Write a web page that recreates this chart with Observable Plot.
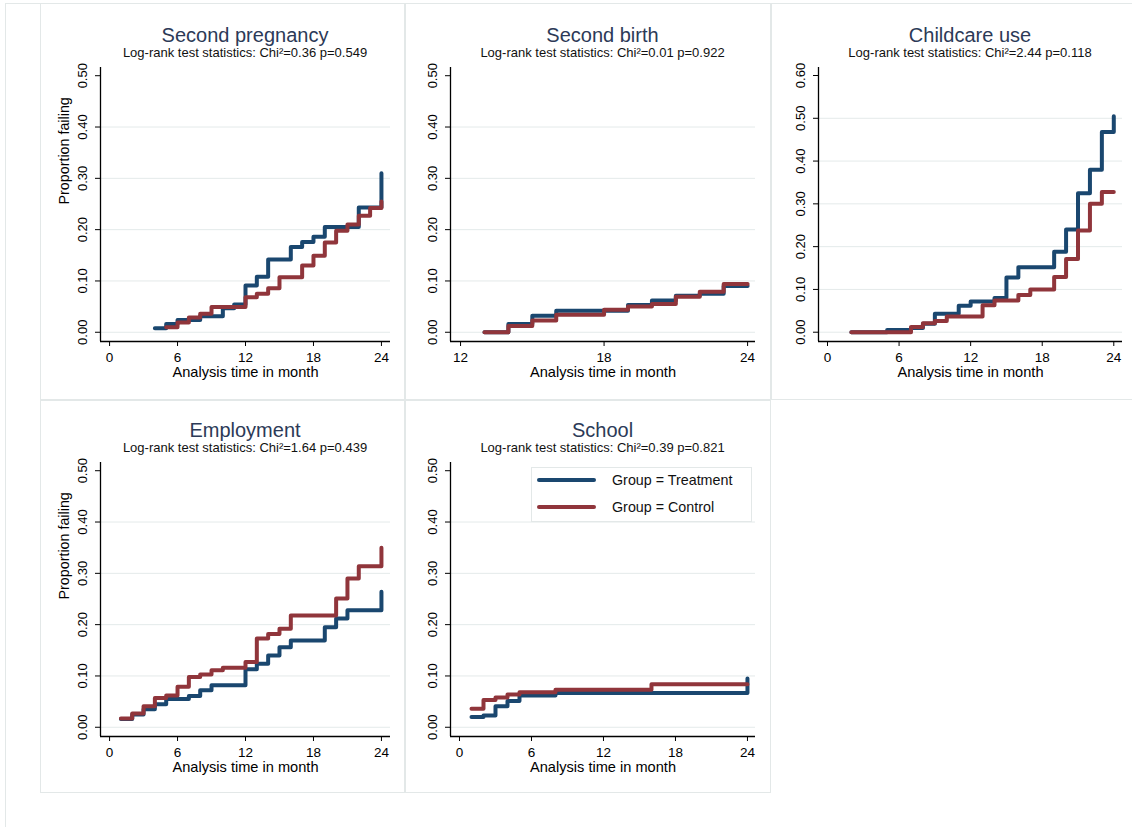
<!DOCTYPE html>
<html>
<head>
<meta charset="utf-8">
<script src="https://cdn.jsdelivr.net/npm/d3@7"></script>
<script src="https://cdn.jsdelivr.net/npm/@observablehq/plot@0.6"></script>
<style>
  body { margin: 0; background: #fff; font-family: "Liberation Sans", Arial, sans-serif; }
  #root { position: relative; width: 1132px; height: 827px; overflow: hidden; background: #fff; }
  .box { position: absolute; border: 1px solid #e3e8e8; box-sizing: border-box; }
  .ttl { position: absolute; white-space: nowrap; transform: translateX(-50%); font-size: 20px; line-height: 20px; color: #2c3a57; }
  .sub { position: absolute; white-space: nowrap; transform: translateX(-50%); font-size: 13px; line-height: 13px; color: #111; }
  .plotwrap { position: absolute; }
  .legend { position: absolute; border: 1px solid #e3e8e8; background: #fff; box-sizing: border-box; }
  .legrow { position: absolute; font-size: 14.3px; line-height: 14px; color: #111; white-space: nowrap; }
  .swatch { position: absolute; height: 4px; border-radius: 2px; }
</style>
</head>
<body>
<div id="root"></div>
<script>
// ---------- data ----------
const groups = ["Group = Treatment", "Group = Control"];
const groupColors = ["#1a476f", "#90353b"];

const panelTitles = ["Second pregnancy", "Second birth", "Childcare use", "Employment", "School"];
const chi2Values = ["0.36", "0.01", "2.44", "1.64", "0.39"];
const pValues = ["0.549", "0.922", "0.118", "0.439", "0.821"];

const xTicksFull = [0, 6, 12, 18, 24];
const xTicksBirth = [12, 18, 24];
const yTicksHalf = [0, 0.1, 0.2, 0.3, 0.4, 0.5];
const yTicksSix = [0, 0.1, 0.2, 0.3, 0.4, 0.5, 0.6];

const xAxisTitle = "Analysis time in month";
const yAxisTitle = "Proportion failing";

// [month, proportion failing]
const pregnancyTreatment = [[4,0.008],[5,0.016],[6,0.024],[8,0.031],[10,0.047],[11,0.054],[12,0.091],[13,0.108],[14,0.142],[16,0.166],[17,0.176],[18,0.186],[19,0.205],[22,0.243],[24,0.310]];
const pregnancyControl = [[5,0.010],[6,0.019],[7,0.029],[8,0.036],[9,0.049],[12,0.068],[13,0.075],[14,0.086],[15,0.107],[17,0.130],[18,0.149],[19,0.175],[20,0.198],[21,0.210],[22,0.227],[23,0.242],[24,0.255]];

const birthTreatment = [[13,0],[14,0.016],[15,0.032],[16,0.042],[19,0.053],[20,0.062],[21,0.071],[22,0.075],[23,0.090],[24,0.090]];
const birthControl = [[13,0],[14,0.012],[15,0.023],[16,0.034],[18,0.044],[19,0.050],[20,0.055],[21,0.069],[22,0.079],[23,0.094],[24,0.094]];

const childcareTreatment = [[2,0],[5,0.005],[7,0.010],[8,0.020],[9,0.043],[11,0.062],[12,0.072],[14,0.080],[15,0.128],[16,0.152],[19,0.188],[20,0.240],[21,0.325],[22,0.380],[23,0.468],[24,0.505]];
const childcareControl = [[2,0],[7,0.012],[8,0.021],[9,0.026],[10,0.037],[13,0.063],[14,0.074],[16,0.087],[17,0.100],[19,0.129],[20,0.171],[21,0.238],[22,0.300],[23,0.328],[24,0.328]];

const employmentTreatment = [[1,0.016],[2,0.025],[3,0.035],[4,0.045],[5,0.055],[7,0.061],[8,0.072],[9,0.082],[12,0.113],[13,0.124],[14,0.140],[15,0.156],[16,0.169],[19,0.195],[20,0.212],[21,0.228],[24,0.264]];
const employmentControl = [[1,0.017],[2,0.027],[3,0.041],[4,0.057],[5,0.062],[6,0.079],[7,0.098],[8,0.103],[9,0.111],[10,0.116],[12,0.127],[13,0.173],[14,0.182],[15,0.192],[16,0.218],[20,0.251],[21,0.290],[22,0.314],[24,0.350]];

const schoolTreatment = [[1,0.020],[2,0.023],[3,0.041],[4,0.051],[5,0.062],[8,0.067],[24,0.095]];
const schoolControl = [[1,0.036],[2,0.053],[3,0.058],[4,0.064],[5,0.068],[8,0.073],[16,0.084],[24,0.084]];

// ---------- layout ----------
const root = document.getElementById("root");
const FONT = '"Liberation Sans", Arial, sans-serif';

function addDiv(cls, style, text) {
  const d = document.createElement("div");
  d.className = cls;
  Object.assign(d.style, style);
  if (text != null) d.textContent = text;
  root.appendChild(d);
  return d;
}

// outer frame lines
addDiv("box", {left: "5px", top: "3px", width: "1140px", height: "840px"});
// panel boxes
[[40,3,365,397],[405,3,366,397],[771,3,370,397],[40,400,365,393],[405,400,366,393]].forEach(([l,t,w,h]) =>
  addDiv("box", {left: l+"px", top: t+"px", width: w+"px", height: h+"px"}));

const panels = [
  {i:0, left:40,  top:60,  w:365, ml:60, mr:15, xd:[-0.8,24.8],   xt:xTicksFull,  yd:[-0.018,0.516],   yt:yTicksHalf, series:[pregnancyTreatment, pregnancyControl], ylab:true},
  {i:1, left:405, top:60,  w:366, ml:45, mr:16, xd:[11.58,24.33], xt:xTicksBirth, yd:[-0.018,0.516],   yt:yTicksHalf, series:[birthTreatment, birthControl], ylab:false},
  {i:2, left:771, top:60,  w:361, ml:47, mr:10, xd:[-0.755,24.73],xt:xTicksFull,  yd:[-0.0217,0.6187], yt:yTicksSix,  series:[childcareTreatment, childcareControl], ylab:false},
  {i:3, left:40,  top:455, w:365, ml:60, mr:15, xd:[-0.8,24.8],   xt:xTicksFull,  yd:[-0.018,0.516],   yt:yTicksHalf, series:[employmentTreatment, employmentControl], ylab:true},
  {i:4, left:405, top:455, w:366, ml:45, mr:16, xd:[-0.75,24.67], xt:xTicksFull,  yd:[-0.018,0.516],   yt:yTicksHalf, series:[schoolTreatment, schoolControl], ylab:false}
];

const H = 330, MT = 7, MB = 49;

panels.forEach(cfg => {
  const rows = [];
  cfg.series.forEach((s, gi) => s.forEach(([t, p]) => rows.push({t, p, g: groups[gi]})));
  const maxTick = cfg.yt[cfg.yt.length - 1];
  const marks = [
    Plot.ruleY(cfg.yt.filter(v => v < maxTick), {stroke: "#e4eaea", strokeWidth: 1}),
    Plot.axisX({ticks: cfg.xt, tickSize: 5, tickPadding: 6, label: null, fontSize: 13.5, stroke: "#000", color: "#000"}),
    Plot.axisY({ticks: cfg.yt, tickSize: 5, tickPadding: 9, tickRotate: -90, tickFormat: d3.format(".2f"), label: null, fontSize: 13, stroke: "#000"}),
    Plot.ruleX([cfg.xd[0]], {stroke: "#000", strokeWidth: 1.3}),
    Plot.ruleY([cfg.yd[0]], {stroke: "#000", strokeWidth: 1.3}),
    Plot.line(rows, {x: "t", y: "p", z: "g", stroke: "g", curve: "step-after", strokeWidth: 4, strokeLinejoin: "round", strokeLinecap: "round"}),
    Plot.text([xAxisTitle], {text: d => d, frameAnchor: "bottom", dy: 35, fontSize: 14.6, fill: "#000"})
  ];
  if (cfg.ylab) marks.push(Plot.text([yAxisTitle], {text: d => d, frameAnchor: "left", dx: -36, rotate: -90, fontSize: 14.3, fill: "#000"}));
  const plot = Plot.plot({
    width: cfg.w, height: H,
    marginLeft: cfg.ml, marginRight: cfg.mr, marginTop: MT, marginBottom: MB,
    style: {fontFamily: FONT, fontSize: "13px", color: "#000", background: "transparent", overflow: "visible"},
    x: {domain: cfg.xd},
    y: {domain: cfg.yd},
    color: {domain: groups, range: groupColors},
    marks
  });
  const wrap = addDiv("plotwrap", {left: cfg.left + "px", top: cfg.top + "px"});
  wrap.appendChild(plot);

  const cx = cfg.left + cfg.ml + (cfg.w - cfg.ml - cfg.mr) / 2;
  const rowOff = cfg.top - 60;
  addDiv("ttl", {left: cx + "px", top: (25 + rowOff) + "px"}, panelTitles[cfg.i]);
  addDiv("sub", {left: cx + "px", top: (46 + rowOff) + "px"},
    "Log-rank test statistics: Chi\u00b2=" + chi2Values[cfg.i] + " p=" + pValues[cfg.i]);
});

// legend (inside School panel)
addDiv("legend", {left: "531px", top: "467px", width: "221px", height: "55px"});
groups.forEach((g, gi) => {
  const y = 480 + gi * 27;
  addDiv("swatch", {left: "537px", top: (y - 2) + "px", width: "59px", background: groupColors[gi]});
  addDiv("legrow", {left: "612px", top: (y - 7) + "px"}, g);
});
</script>
</body>
</html>
